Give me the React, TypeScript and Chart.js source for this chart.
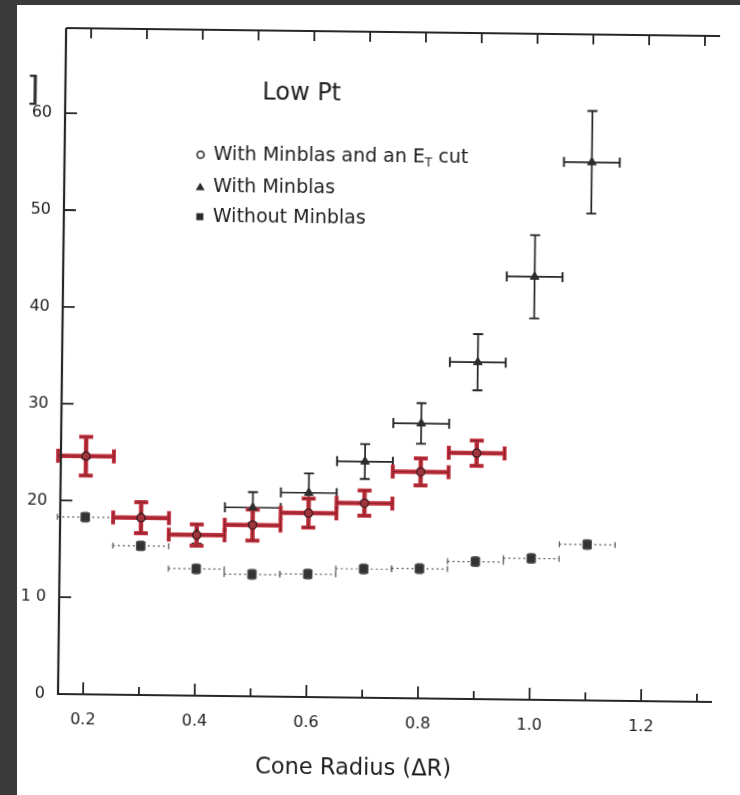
import React, { useEffect, useRef } from "react";
import { Chart, registerables } from "chart.js";

Chart.register(...registerables);

// ---- data ----
const cutRadius = [0.2, 0.3, 0.4, 0.5, 0.6, 0.7, 0.8, 0.9];
const cutValues = [24.6, 18.3, 16.6, 17.7, 19.0, 20.1, 23.4, 25.4];
const cutErrors = [2.0, 1.6, 1.1, 1.6, 1.5, 1.3, 1.4, 1.3];

const minbiasRadius = [0.2, 0.3, 0.4, 0.5, 0.6, 0.7, 0.8, 0.9, 1.0, 1.1];
const minbiasValues = [24.6, 18.4, 16.7, 19.5, 21.1, 24.4, 28.4, 34.8, 43.7, 55.6];
const minbiasErrors = [2.0, 1.6, 1.0, 1.6, 2.0, 1.8, 2.1, 2.9, 4.3, 5.3];

const noMinbiasRadius = [0.2, 0.3, 0.4, 0.5, 0.6, 0.7, 0.8, 0.9, 1.0, 1.1];
const noMinbiasValues = [18.3, 15.4, 13.1, 12.6, 12.7, 13.3, 13.4, 14.2, 14.6, 16.1];
const noMinbiasErrors = [0.5, 0.5, 0.5, 0.5, 0.5, 0.5, 0.5, 0.5, 0.5, 0.5];

const binHalfWidth = 0.05;

const xTickLabels = [0.2, 0.4, 0.6, 0.8, 1.0, 1.2];
const xMinorTicks = [0.2, 0.3, 0.4, 0.5, 0.6, 0.7, 0.8, 0.9, 1.0, 1.1, 1.2, 1.3];
const yTickLabels = [0, 10, 20, 30, 40, 50, 60];

const titleText = "Low Pt";
const legendLabels = ["With Minblas and an E", "With Minblas", "Without Minblas"];
const xAxisTitle = "Cone Radius (\u0394R)";

const FONT = "'DejaVu Sans', Verdana, sans-serif";
const INK = "#262626";
const TEXT = "#1e1e1e";
const RED = "#c2313d";

function toPts(xs: number[], ys: number[]) {
  return xs.map((x, i) => ({ x, y: ys[i] }));
}

const errorBarPlugin = {
  id: "errorBars",
  beforeDatasetsDraw(chart: any) {
    const { ctx, scales } = chart;
    const xs = scales.x;
    const ys = scales.y;
    const drawSeries = (
      rx: number[],
      vals: number[],
      errs: number[],
      color: string,
      lw: number,
      cap: number,
      capW: number,
      dash: number[]
    ) => {
      ctx.save();
      ctx.strokeStyle = color;
      ctx.lineCap = "butt";
      rx.forEach((x, i) => {
        const px = xs.getPixelForValue(x);
        const pl = xs.getPixelForValue(x - binHalfWidth);
        const pr = xs.getPixelForValue(x + binHalfWidth);
        const py = ys.getPixelForValue(vals[i]);
        const pt = ys.getPixelForValue(vals[i] + errs[i]);
        const pb = ys.getPixelForValue(vals[i] - errs[i]);
        ctx.lineWidth = lw;
        ctx.setLineDash(dash);
        ctx.beginPath();
        ctx.moveTo(pl, py);
        ctx.lineTo(pr, py);
        ctx.moveTo(px, pt);
        ctx.lineTo(px, pb);
        ctx.stroke();
        ctx.setLineDash([]);
        ctx.lineWidth = capW;
        ctx.beginPath();
        ctx.moveTo(pl, py - cap);
        ctx.lineTo(pl, py + cap);
        ctx.moveTo(pr, py - cap);
        ctx.lineTo(pr, py + cap);
        ctx.moveTo(px - cap, pt);
        ctx.lineTo(px + cap, pt);
        ctx.moveTo(px - cap, pb);
        ctx.lineTo(px + cap, pb);
        ctx.stroke();
      });
      ctx.restore();
    };
    drawSeries(noMinbiasRadius, noMinbiasValues, noMinbiasErrors, "#5a5a5a", 1.2, 3, 1.2, [2, 3]);
    drawSeries(minbiasRadius, minbiasValues, minbiasErrors, INK, 1.7, 5, 1.9, []);
    drawSeries(cutRadius, cutValues, cutErrors, RED, 4.5, 7, 4, []);
    drawSeries(cutRadius, cutValues, cutErrors, "rgba(90,20,30,0.55)", 1, 6, 1, []);
  },
};

const axesPlugin = {
  id: "frameAxes",
  afterDraw(chart: any) {
    const { ctx, chartArea, scales } = chart;
    const xs = scales.x;
    const ys = scales.y;
    const { left, right, top, bottom } = chartArea;
    ctx.save();
    ctx.strokeStyle = INK;
    ctx.lineWidth = 2.2;
    ctx.beginPath();
    ctx.moveTo(left, top);
    ctx.lineTo(left, bottom);
    ctx.lineTo(right, bottom);
    ctx.moveTo(left, top);
    ctx.lineTo(right, top);
    ctx.stroke();
    ctx.lineWidth = 1.8;
    ctx.beginPath();
    xMinorTicks.forEach((v, i) => {
      const px = xs.getPixelForValue(v);
      const major = i % 2 === 0;
      ctx.moveTo(px, bottom);
      ctx.lineTo(px, bottom - (major ? 12 : 8));
      ctx.moveTo(px, top);
      ctx.lineTo(px, top + 10);
    });
    yTickLabels.forEach((v) => {
      const py = ys.getPixelForValue(v);
      ctx.moveTo(left, py);
      ctx.lineTo(left + 12, py);
    });
    ctx.stroke();
    ctx.restore();
  },
};

const textPlugin = {
  id: "insetText",
  afterDraw(chart: any) {
    const { ctx } = chart;
    ctx.save();
    ctx.fillStyle = TEXT;
    ctx.textBaseline = "middle";
    ctx.textAlign = "left";
    ctx.font = `24px ${FONT}`;
    ctx.fillText(titleText, 255, 91);

    ctx.font = `19px ${FONT}`;
    const tx = 207;
    const rows = [153, 185, 215];
    ctx.fillText(legendLabels[0], tx, rows[0]);
    const w = ctx.measureText(legendLabels[0]).width;
    ctx.font = `12px ${FONT}`;
    ctx.fillText("T", tx + w, rows[0] + 6);
    const w2 = ctx.measureText("T").width;
    ctx.font = `19px ${FONT}`;
    ctx.fillText(" cut", tx + w + w2, rows[0]);
    ctx.fillText(legendLabels[1], tx, rows[1]);
    ctx.fillText(legendLabels[2], tx, rows[2]);

    // legend markers
    ctx.strokeStyle = "#2a2a2a";
    ctx.lineWidth = 1.6;
    ctx.beginPath();
    ctx.arc(194, rows[0], 3.5, 0, Math.PI * 2);
    ctx.stroke();
    ctx.fillStyle = "#2a2a2a";
    ctx.beginPath();
    ctx.moveTo(194, rows[1] - 4);
    ctx.lineTo(198.5, rows[1] + 3.5);
    ctx.lineTo(189.5, rows[1] + 3.5);
    ctx.closePath();
    ctx.fill();
    ctx.fillRect(190.5, rows[2] - 3.5, 7, 7);

    // x axis title
    ctx.fillStyle = TEXT;
    ctx.textAlign = "center";
    ctx.font = `22.5px ${FONT}`;
    ctx.fillText(xAxisTitle, 354, 765);

    // cut-off axis label fragment at the left edge
    ctx.textAlign = "left";
    ctx.font = `34px ${FONT}`;
    ctx.fillStyle = "#2e2e2e";
    ctx.fillText("]", 19, 92);
    ctx.restore();
  },
};

export default function App() {
  const ref = useRef<HTMLCanvasElement | null>(null);

  useEffect(() => {
    if (!ref.current) return;
    const chart = new Chart(ref.current, {
      type: "scatter",
      data: {
        datasets: [
          {
            label: "With Minblas and an ET cut",
            data: toPts(cutRadius, cutValues),
            pointStyle: "circle",
            pointRadius: 4,
            pointBackgroundColor: "#a2363f",
            pointBorderColor: "#4a1c22",
            pointBorderWidth: 1.5,
            showLine: false,
          },
          {
            label: "With Minblas",
            data: toPts(minbiasRadius, minbiasValues),
            pointStyle: "triangle",
            pointRadius: 5,
            pointBackgroundColor: "#2c2c2c",
            pointBorderColor: "#2c2c2c",
            pointBorderWidth: 1,
            showLine: false,
          },
          {
            label: "Without Minblas",
            data: toPts(noMinbiasRadius, noMinbiasValues),
            pointStyle: "rect",
            pointRadius: 6,
            pointBackgroundColor: "#333333",
            pointBorderColor: "#4a4a4a",
            pointBorderWidth: 1,
            showLine: false,
          },
        ],
      },
      options: {
        animation: false,
        responsive: true,
        maintainAspectRatio: false,
        layout: { padding: { top: 28, right: 28, left: 0, bottom: 0 } },
        plugins: {
          legend: { display: false },
          tooltip: { enabled: false },
        },
        scales: {
          x: {
            type: "linear",
            min: 0.155,
            max: 1.327,
            grid: { display: false, drawTicks: false },
            border: { display: false },
            afterBuildTicks: (scale: any) => {
              scale.ticks = xTickLabels.map((v) => ({ value: v }));
            },
            afterFit: (scale: any) => {
              scale.height = 101;
            },
            ticks: {
              color: TEXT,
              font: { family: FONT, size: 16 },
              padding: 16,
              autoSkip: false,
              maxRotation: 0,
              callback: (v: any) => Number(v).toFixed(1),
            },
          },
          y: {
            type: "linear",
            min: 0,
            max: 68.8,
            grid: { display: false, drawTicks: false },
            border: { display: false },
            afterBuildTicks: (scale: any) => {
              scale.ticks = yTickLabels.map((v) => ({ value: v }));
            },
            afterFit: (scale: any) => {
              scale.width = 58;
            },
            ticks: {
              color: TEXT,
              font: { family: FONT, size: 16 },
              padding: 13,
              autoSkip: false,
              callback: (v: any) => (Number(v) === 10 ? "1 0" : String(v)),
            },
          },
        },
      },
      plugins: [errorBarPlugin, axesPlugin, textPlugin],
    });
    return () => chart.destroy();
  }, []);

  return (
    <div
      style={{
        position: "absolute",
        left: 0,
        top: 0,
        width: 740,
        height: 795,
        background: "#3a3a3a",
        overflow: "hidden",
      }}
    >
      <div
        style={{
          position: "absolute",
          left: 17,
          top: 5,
          width: 723,
          height: 790,
          background: "#ffffff",
          overflow: "hidden",
        }}
      >
        <div
          style={{
            position: "absolute",
            left: -17,
            top: -5,
            width: 740,
            height: 795,
            transform: "rotate(0.7deg)",
            transformOrigin: "58px 694px",
          }}
        >
          <canvas ref={ref} style={{ width: 740, height: 795 }} />
        </div>
      </div>
    </div>
  );
}
